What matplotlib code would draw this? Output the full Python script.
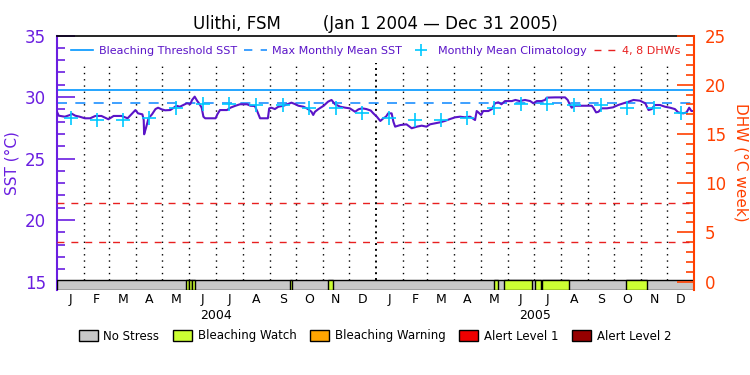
import numpy as np
import pandas as pd
import matplotlib
matplotlib.use('Agg')
import matplotlib.pyplot as plt
from matplotlib.lines import Line2D
from matplotlib.patches import Patch

# days counted from Jan 1 2004
sst_days = [0, 2, 9, 15, 17, 21, 26, 32, 38, 44, 51, 59, 65, 74, 81, 88, 90, 93, 98, 99.5,
            100, 102, 105, 109, 113, 116, 120, 124, 130, 134, 137, 141, 145, 149, 153, 155, 158, 161, 163, 166,
            168, 170, 176, 182, 184, 187, 195, 199, 204, 210, 218, 222, 227, 230, 233, 238, 242, 243.5, 246, 250,
            254, 260, 265, 269, 273, 277, 283, 288, 292, 294, 296, 300, 306, 311, 315, 319, 325, 331, 336, 342,
            346, 350, 355, 360, 363, 367, 371, 374.5, 377.5, 380, 384, 386, 388, 394, 401, 407, 413, 418.5, 424, 428,
            434, 439.5, 445, 451, 457, 462.5, 468, 474, 479.7, 481.6, 483.5, 486.6, 489, 495, 499, 502.6, 506.4, 510, 514, 522,
            526, 531, 537, 543, 546.6, 550.5, 556, 560, 562, 571.5, 583, 586, 588.7, 590.6, 594.4, 606, 613.6, 615.5, 618.6, 621.3,
            625, 631, 638, 644, 650, 656, 661.5, 669, 675, 678.8, 682.4, 686, 692, 697.7, 703.5, 709, 712.8, 718.6, 722.4, 725.4,
            728, 730]
sst = [28.80, 28.48, 28.40, 28.54, 28.64, 28.48, 28.40, 28.27, 28.27, 28.46, 28.46, 28.19, 28.46, 28.46, 28.27, 28.80, 28.94, 28.67, 28.59, 28.13,
       26.97, 27.46, 28.27, 28.59, 29.02, 29.13, 29.00, 28.92, 28.94, 29.13, 29.29, 29.21, 29.35, 29.49, 29.43, 29.76, 30.03, 29.67, 29.49, 29.13,
       28.40, 28.27, 28.27, 28.27, 28.59, 28.94, 28.94, 29.13, 29.27, 29.41, 29.41, 29.29, 29.27, 28.80, 28.27, 28.27, 28.27, 29.08, 29.13, 29.02,
       29.21, 29.29, 29.43, 29.54, 29.43, 29.29, 29.21, 29.02, 28.80, 28.54, 28.80, 29.02, 29.29, 29.62, 29.76, 29.41, 29.21, 29.13, 29.08, 28.80,
       29.00, 29.08, 29.02, 28.90, 28.67, 28.40, 28.05, 28.27, 28.40, 28.67, 28.67, 27.99, 27.59, 27.72, 27.78, 27.46, 27.59, 27.67, 27.59, 27.78,
       27.86, 27.94, 28.05, 28.21, 28.35, 28.40, 28.35, 28.40, 28.13, 28.86, 28.75, 28.54, 28.86, 28.86, 29.02, 29.49, 29.57, 29.41, 29.67, 29.67,
       29.76, 29.67, 29.76, 29.67, 29.49, 29.67, 29.67, 29.76, 29.95, 29.97, 29.97, 29.76, 29.35, 29.13, 29.29, 29.29, 29.29, 29.13, 28.75, 28.80,
       29.08, 29.08, 29.16, 29.35, 29.49, 29.62, 29.76, 29.70, 29.49, 28.94, 29.02, 29.35, 29.35, 29.21, 29.13, 29.02, 28.75, 28.67, 28.75, 29.13,
       28.86, 28.86]

climatology = [28.30, 28.10, 28.10, 28.30, 29.13, 29.47, 29.47, 29.35, 29.32, 29.13, 29.13, 28.67]
mmm = 29.5
threshold = 30.57
dhw_levels = [4, 8]

# stress periods (start day, end day)
watch_periods = [(148, 151.5), (151.5, 155), (155, 158), (267.5, 270), (311.5, 317),
                 (502, 506.5), (513, 545), (549, 555), (556, 587), (652.5, 677.5)]

month_letters = ['J', 'F', 'M', 'A', 'M', 'J', 'J', 'A', 'S', 'O', 'N', 'D']
years = ['2004', '2005']

stress_names = ['No Stress', 'Bleaching Watch', 'Bleaching Warning', 'Alert Level 1', 'Alert Level 2']
stress_colors = ['#c8c8c8', '#ccff33', '#ffa500', '#f00000', '#960000']

purple = '#5a14c8'
axis_purple = '#6a1ee0'
orange = '#ff4000'

start = pd.Timestamp('2004-01-01')
month_starts = pd.date_range('2004-01-01', '2006-01-01', freq='MS')
month_start_days = np.array([(d - start).days for d in month_starts])
month_mid_days = (month_start_days[:-1] + month_start_days[1:]) / 2.0
ndays = month_start_days[-1]

ybot = 14.31
bar_top = 15.12

fig = plt.figure(figsize=(7.5, 3.75), dpi=100)
ax = fig.add_axes([0.076, 0.2267, 0.8494, 0.6786])
ax.set_xlim(0, ndays)
ax.set_ylim(ybot, 35)

# month grid lines
for d in month_start_days[1:-1]:
    if d == 366:
        ax.plot([d, d], [bar_top, 32.8], color='black', lw=1.4, ls=(0, (1, 2)), zorder=1)
    else:
        ax.plot([d, d], [bar_top, 32.8], color='black', lw=1, ls=(0, (1, 3.5)), zorder=1)

ax.axhline(threshold, color='#0096ff', lw=1.2, zorder=2)
ax.axhline(mmm, color='#1e90ff', lw=1.2, ls=(0, (6, 5)), zorder=2)

ax.plot(sst_days, sst, color=purple, lw=1.5, zorder=4)
ax.plot(month_mid_days, climatology * 2, ls='none', marker='+', ms=10, mew=1.2,
        color='#00c8ff', zorder=5)

# stress bar
ax.bar(0, bar_top - ybot, width=ndays, bottom=ybot, align='edge',
       color=stress_colors[0], edgecolor='black', lw=1, zorder=3)
for s, e in watch_periods:
    ax.bar(s, bar_top - ybot, width=e - s, bottom=ybot, align='edge',
           color=stress_colors[1], edgecolor='black', lw=1, zorder=3)

ax.set_yticks([15, 20, 25, 30, 35])
ax.set_yticks(np.arange(15, 35, 1), minor=True)
ax.tick_params(axis='y', which='major', direction='in', length=13, width=1.2,
               colors=axis_purple, labelsize=12, pad=8)
ax.tick_params(axis='y', which='minor', direction='in', length=6, width=1.2, colors=axis_purple)
ax.set_xticks([])
ax.spines['left'].set_color(axis_purple)
ax.spines['left'].set_linewidth(1.5)
ax.spines['bottom'].set_visible(False)
ax.spines['right'].set_visible(False)
ax.spines['top'].set_linewidth(1.2)
ax.set_ylabel('SST (\u00b0C)', color=axis_purple, fontsize=11, labelpad=4)

ax2 = ax.twinx()
ax2.set_ylim((ybot - 15) * 1.25, 25)
for lv in dhw_levels:
    ax2.axhline(lv, color='#e82020', lw=1, ls=(0, (5, 5)), zorder=2)
ax2.set_yticks([0, 5, 10, 15, 20, 25])
ax2.set_yticks(np.arange(0, 25, 1), minor=True)
ax2.tick_params(axis='y', which='major', direction='in', length=12, width=1.2,
                colors=orange, labelsize=12, pad=8)
ax2.tick_params(axis='y', which='minor', direction='in', length=6, width=1.2, colors=orange)
for sp in ['left', 'top', 'bottom']:
    ax2.spines[sp].set_visible(False)
ax2.spines['right'].set_color(orange)
ax2.spines['right'].set_linewidth(1.5)
ax2.set_ylabel('DHW (\u00b0C week)', color=orange, fontsize=11, rotation=270, labelpad=16)

# month letters and years
for i, d in enumerate(month_mid_days):
    ax.text(d, -0.012, month_letters[i % 12], transform=ax.get_xaxis_transform(),
            ha='center', va='top', fontsize=9)
for i, y in enumerate(years):
    mid = (month_start_days[12 * i] + month_start_days[12 * i + 12]) / 2.0
    ax.text(mid, -0.075, y, transform=ax.get_xaxis_transform(),
            ha='center', va='top', fontsize=9)

ax.set_title('Ulithi, FSM        (Jan 1 2004 \u2014 Dec 31 2005)', fontsize=12, pad=5)

# top legend
handles = [Line2D([], [], color='#0096ff', lw=1.2),
           Line2D([], [], color='#1e90ff', lw=1.2, ls=(0, (5, 5))),
           Line2D([], [], color='#00c8ff', ls='none', marker='+', ms=9, mew=1.2),
           Line2D([], [], color='#e82020', lw=1, ls=(0, (5, 5)))]
labels = ['Bleaching Threshold SST', 'Max Monthly Mean SST', 'Monthly Mean Climatology', '4, 8 DHWs']
leg = ax.legend(handles, labels, loc='upper center', bbox_to_anchor=(0.5, 0.995), ncol=4,
                frameon=False, fontsize=8, handlelength=2.0, handletextpad=0.5,
                columnspacing=0.7, borderaxespad=0.4)
for t, c in zip(leg.get_texts(), [purple, purple, purple, '#e82020']):
    t.set_color(c)

# bottom legend
patches = [Patch(facecolor=c, edgecolor='black', lw=1) for c in stress_colors]
fig.legend(patches, stress_names, loc='center', bbox_to_anchor=(0.5, 0.104), ncol=5,
           frameon=False, fontsize=8.5, handlelength=1.6, handleheight=1.0,
           handletextpad=0.5, columnspacing=1.15)

fig.savefig('out.png', dpi=100)
